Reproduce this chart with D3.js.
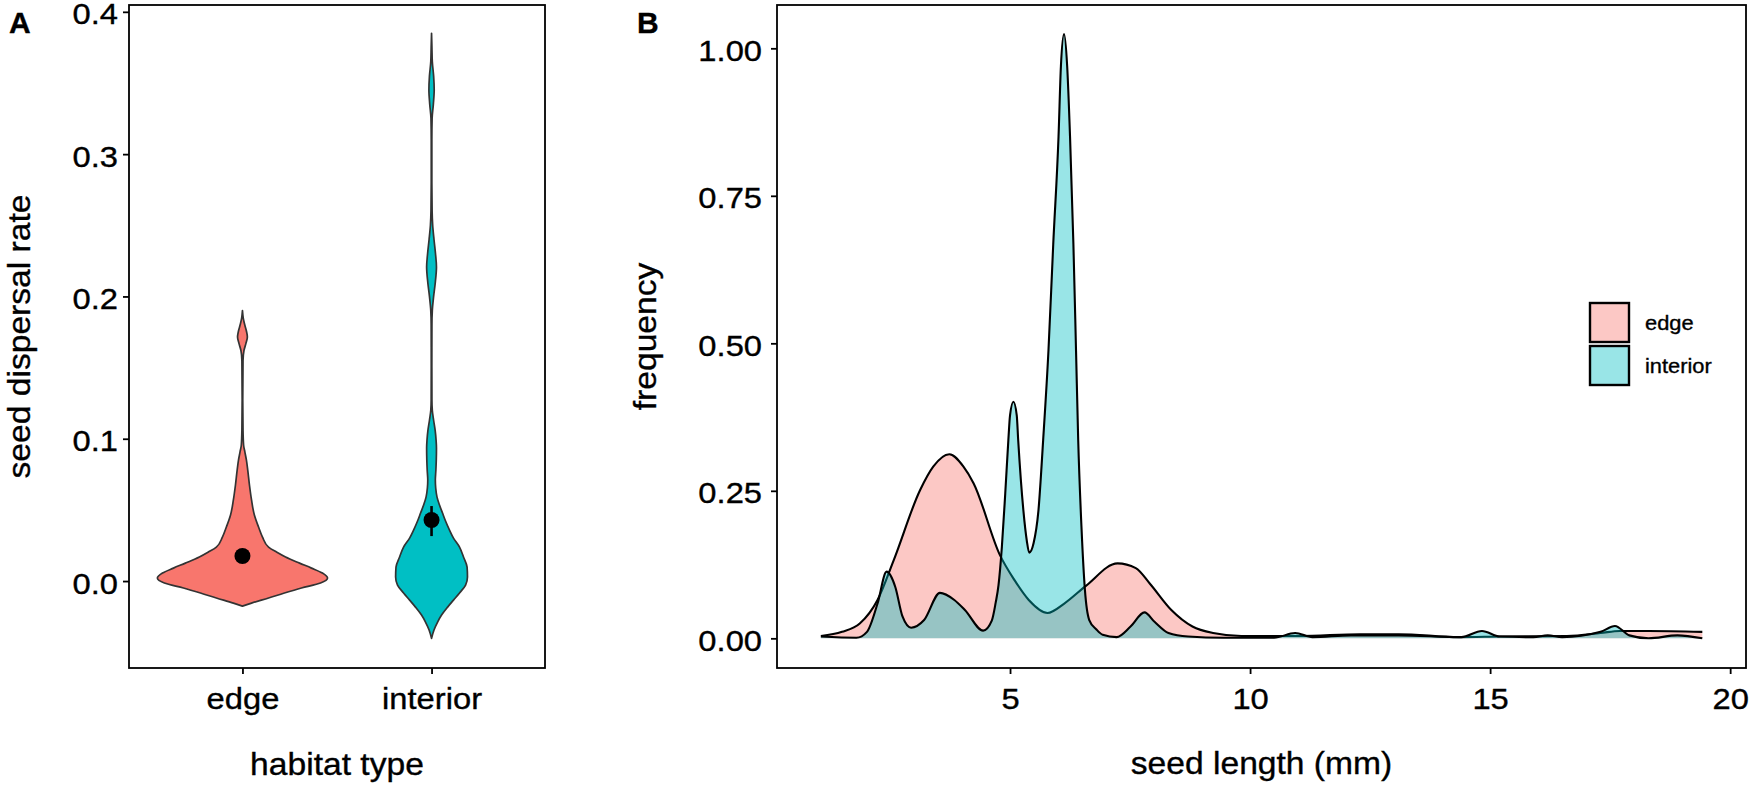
<!DOCTYPE html>
<html><head><meta charset="utf-8">
<script src="https://cdn.jsdelivr.net/npm/d3@7"></script>
<style>
body{margin:0;background:#fff}
svg{display:block}
text{font-family:"Liberation Sans",Arial,sans-serif;fill:#000;stroke:#000;stroke-width:0.35px}
</style>
</head><body>
<svg id="chart" width="1750" height="785"></svg>
<script>
// ---------- DATA ----------
const habitats = ["edge", "interior"];
const habitatColors = ["#F8766D", "#00BFC4"];
const dispersalTicks = [0, 0.1, 0.2, 0.3, 0.4];

// violin outlines: value (seed dispersal rate) and half-width (in category units)
const edgeViolinValue = [-0.0176,-0.0155,-0.0119,-0.0084,-0.0049,-0.0014,0.0021,0.0056,0.0091,0.0126,0.0169,0.0204,0.0239,0.0309,0.038,0.0464,0.057,0.0675,0.078,0.085,0.0906,0.0956,0.106,0.127,0.155,0.162,0.167,0.1715,0.1757,0.1806,0.185,0.19];
const edgeViolinWidth = [0,0.048,0.138,0.222,0.312,0.413,0.45,0.423,0.365,0.302,0.228,0.18,0.138,0.106,0.085,0.063,0.048,0.037,0.028,0.021,0.013,0.006,0.003,0.0016,0.003,0.008,0.0185,0.026,0.021,0.011,0.004,0];
const interiorViolinValue = [-0.0403,-0.0344,-0.0288,-0.0239,-0.0183,-0.0134,-0.0084,-0.0028,0.0028,0.0098,0.0169,0.0239,0.0302,0.0358,0.0422,0.0478,0.0534,0.059,0.0654,0.071,0.078,0.085,0.0935,0.099,0.106,0.113,0.12,0.127,0.15,0.18,0.19,0.2,0.21,0.2207,0.23,0.24,0.25,0.26,0.28,0.31,0.325,0.335,0.345,0.355,0.365,0.375,0.3849];
const interiorViolinWidth = [0,0.013,0.032,0.053,0.085,0.116,0.148,0.18,0.19,0.188,0.169,0.148,0.116,0.095,0.074,0.058,0.042,0.029,0.022,0.02,0.023,0.025,0.026,0.024,0.019,0.011,0.004,0.002,0.0016,0.002,0.004,0.011,0.02,0.026,0.021,0.013,0.006,0.003,0.0016,0.0016,0.003,0.0095,0.014,0.011,0.004,0.002,0];

const meanRate = [0.0176, 0.0429];
const meanLow  = [0.0136, 0.0316];
const meanHigh = [0.0216, 0.0527];

const lengthTicks = [5, 10, 15, 20];
const freqTicks = [0, 0.25, 0.5, 0.75, 1];

const edgeLength = [1.06,1.5,1.87,2.24,2.58,3.125,3.40,3.735,4.03,4.24,4.79,5.09,5.39,5.78,6.13,6.58,7.24,7.62,7.91,8.36,8.8,9.23,9.82,11.04,12.29,13.1,14.35,15.2,16.6,17.3,17.7,18.3,19.42];
const edgeFreq   = [0.004,0.011,0.025,0.065,0.133,0.251,0.291,0.312,0.291,0.263,0.141,0.099,0.065,0.043,0.059,0.089,0.127,0.119,0.093,0.048,0.020,0.009,0.004,0.004,0.007,0.007,0.002,0.003,0.004,0.009,0.0125,0.0125,0.011];

const interiorLength = [1.06,1.80,2.02,2.24,2.43,2.61,2.76,2.94,3.21,3.54,3.84,4.06,4.44,4.62,4.70,4.76,4.83,4.9,4.965,5.0,5.07,5.14,5.17,5.28,5.35,5.40,5.49,5.59,5.69,5.80,5.90,6.01,6.06,6.125,6.19,6.25,6.32,6.375,6.42,6.49,6.56,6.65,6.80,6.93,7.22,7.51,7.80,8.01,8.3,8.71,9.45,10.5,10.94,11.3,12.1,13.1,14.4,14.83,15.2,15.9,16.2,16.5,17.3,17.6,17.9,18.3,18.9,19.42];
const interiorFreq   = [0.003,0.001,0.011,0.059,0.113,0.087,0.037,0.018,0.031,0.077,0.065,0.048,0.013,0.03,0.06,0.09,0.155,0.245,0.336,0.378,0.401,0.378,0.336,0.215,0.165,0.145,0.161,0.215,0.336,0.487,0.668,0.85,0.97,1.024,0.97,0.85,0.668,0.487,0.336,0.185,0.082,0.031,0.015,0.006,0.002,0.02,0.044,0.028,0.009,0.003,0.001,0.001,0.009,0.002,0.005,0.005,0.002,0.0124,0.003,0.002,0.005,0.002,0.011,0.021,0.005,0.000,0.005,0.000];

// ---------- LAYOUT ----------
const svg = d3.select("#chart");
const A = {l:129, r:545, t:5, b:668};
const B = {l:777, r:1746, t:5, b:668};
const tickFont = 30, titleFont = 32;

// widen text glyphs slightly (reference type is a little wider than Arial)
function widen(sel, f) {
  sel.each(function() {
    const len = this.getComputedTextLength();
    d3.select(this).attr("textLength", len * f).attr("lengthAdjust", "spacingAndGlyphs");
  });
}

// ---------- PANEL A ----------
const xA = d3.scalePoint().domain(habitats).range([A.l, A.r]).padding(0.6);
const stepA = xA.step();
const wA = d3.scaleLinear().domain([0, 1]).range([0, stepA]);
const yA = d3.scaleLinear().domain([-0.0611, 0.4048]).range([A.b, A.t]);

const violins = [
  {cat: habitats[0], col: habitatColors[0], v: edgeViolinValue, w: edgeViolinWidth},
  {cat: habitats[1], col: habitatColors[1], v: interiorViolinValue, w: interiorViolinWidth}
];
violins.forEach(vi => {
  const pts = vi.v.map((v, i) => ({v, w: vi.w[i]}));
  const cx = xA(vi.cat);
  const area = d3.area()
    .y(d => yA(d.v))
    .x0(d => cx - wA(d.w))
    .x1(d => cx + wA(d.w))
    .curve(d3.curveMonotoneY);
  svg.append("path").attr("d", area(pts))
    .attr("fill", vi.col).attr("stroke", "#333").attr("stroke-width", 1.7)
    .attr("stroke-linejoin", "round");
});
habitats.forEach((h, i) => {
  svg.append("line").attr("x1", xA(h)).attr("x2", xA(h))
    .attr("y1", yA(meanLow[i])).attr("y2", yA(meanHigh[i]))
    .attr("stroke", "#000").attr("stroke-width", 2.6);
  svg.append("circle").attr("cx", xA(h)).attr("cy", yA(meanRate[i]))
    .attr("r", 8).attr("fill", "#000");
});

function styleAxis(g) {
  g.select(".domain").remove();
  g.selectAll(".tick line").attr("stroke", "#000").attr("stroke-width", 1.8);
  g.selectAll(".tick text").style("font-size", tickFont + "px").attr("fill", "#000");
  widen(g.selectAll(".tick text"), 1.09);
}

const gAy = svg.append("g").attr("transform", `translate(${A.l},0)`)
  .call(d3.axisLeft(yA).tickValues(dispersalTicks).tickFormat(d3.format(".1f")).tickSize(6).tickPadding(5));
gAy.selectAll(".tick text").attr("dy", "0.4em");
const gAx = svg.append("g").attr("transform", `translate(0,${A.b})`)
  .call(d3.axisBottom(xA).tickSize(6).tickPadding(14));
styleAxis(gAy); styleAxis(gAx);
svg.append("rect").attr("x", A.l).attr("y", A.t).attr("width", A.r - A.l).attr("height", A.b - A.t)
  .attr("fill", "none").attr("stroke", "#000").attr("stroke-width", 1.8);

const tA1 = svg.append("text").attr("transform", `translate(30,${(A.t + A.b) / 2}) rotate(-90)`)
  .attr("text-anchor", "middle").style("font-size", titleFont + "px").text("seed dispersal rate");
const tA2 = svg.append("text").attr("x", (A.l + A.r) / 2).attr("y", 775)
  .attr("text-anchor", "middle").style("font-size", titleFont + "px").text("habitat type");
widen(tA1, 1.05); widen(tA2, 1.05);
svg.append("text").attr("x", 9).attr("y", 33).style("font-size", "30px").style("font-weight", "bold").text("A");

// ---------- PANEL B ----------
const xB = d3.scaleLinear().domain([0.146, 20.33]).range([B.l, B.r]);
const yB = d3.scaleLinear().domain([-0.0503, 1.0734]).range([B.b, B.t]);

const dens = [
  {col: habitatColors[0], x: edgeLength, y: edgeFreq},
  {col: habitatColors[1], x: interiorLength, y: interiorFreq}
];
dens.forEach(ds => {
  const pts = ds.x.map((x, i) => ({x, y: ds.y[i]}));
  const area = d3.area().x(d => xB(d.x)).y0(yB(0)).y1(d => yB(d.y)).curve(d3.curveMonotoneX);
  const line = d3.line().x(d => xB(d.x)).y(d => yB(d.y)).curve(d3.curveMonotoneX);
  svg.append("path").attr("d", area(pts)).attr("fill", ds.col).attr("fill-opacity", 0.4);
  svg.append("path").attr("d", line(pts)).attr("fill", "none").attr("stroke", "#000")
    .attr("stroke-width", 2.1).attr("stroke-linejoin", "round");
});

const gBy = svg.append("g").attr("transform", `translate(${B.l},0)`)
  .call(d3.axisLeft(yB).tickValues(freqTicks).tickFormat(d3.format(".2f")).tickSize(6).tickPadding(9));
gBy.selectAll(".tick text").attr("dy", "0.4em");
const gBx = svg.append("g").attr("transform", `translate(0,${B.b})`)
  .call(d3.axisBottom(xB).tickValues(lengthTicks).tickFormat(d3.format("d")).tickSize(6).tickPadding(14));
styleAxis(gBy); styleAxis(gBx);
svg.append("rect").attr("x", B.l).attr("y", B.t).attr("width", B.r - B.l).attr("height", B.b - B.t)
  .attr("fill", "none").attr("stroke", "#000").attr("stroke-width", 1.8);

const tB1 = svg.append("text").attr("transform", `translate(656,${(B.t + B.b) / 2}) rotate(-90)`)
  .attr("text-anchor", "middle").style("font-size", titleFont + "px").text("frequency");
const tB2 = svg.append("text").attr("x", (B.l + B.r) / 2).attr("y", 774)
  .attr("text-anchor", "middle").style("font-size", titleFont + "px").text("seed length (mm)");
widen(tB1, 1.05); widen(tB2, 1.05);
svg.append("text").attr("x", 637).attr("y", 33).style("font-size", "30px").style("font-weight", "bold").text("B");

// legend
const leg = svg.append("g").attr("transform", "translate(1590,303)");
habitats.forEach((h, i) => {
  const g = leg.append("g").attr("transform", `translate(0,${i * 43})`);
  g.append("rect").attr("width", 39).attr("height", 39)
    .attr("fill", habitatColors[i]).attr("fill-opacity", 0.4)
    .attr("stroke", "#000").attr("stroke-width", 2.4);
  const t = g.append("text").attr("x", 55).attr("y", 27).style("font-size", "21px").text(h);
  widen(t, 1.04);
});
</script>
</body></html>
